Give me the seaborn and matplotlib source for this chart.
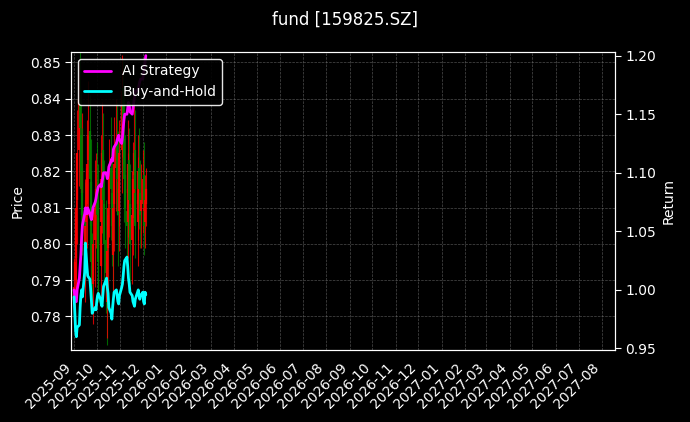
import numpy as np
import pandas as pd
import matplotlib
matplotlib.use("Agg")
import matplotlib.pyplot as plt
import seaborn as sns

close = [0.788,0.795,0.802,0.810,0.825,0.840,0.832,0.815,0.820,0.808,
         0.798,0.805,0.812,0.822,0.830,0.818,0.805,0.795,0.790,0.800,
         0.810,0.815,0.808,0.800,0.795,0.805,0.818,0.825,0.812,0.800,
         0.792,0.785,0.798,0.810,0.820,0.815,0.805,0.798,0.810,0.822,
         0.828,0.818,0.808,0.815,0.825,0.835,0.842,0.830,0.818,0.810,
         0.805,0.815,0.822,0.812,0.800,0.808,0.818,0.825,0.815,0.805,
         0.812,0.820,0.815,0.808,0.812,0.818,0.810,0.805,0.812,0.815]
open_ = [0.785,0.790,0.796,0.800,0.812,0.826,0.840,0.830,0.814,0.821,
         0.807,0.797,0.806,0.811,0.823,0.831,0.817,0.806,0.794,0.789,
         0.801,0.809,0.816,0.807,0.801,0.794,0.806,0.817,0.826,0.811,
         0.801,0.793,0.784,0.799,0.811,0.821,0.814,0.806,0.797,0.811,
         0.821,0.829,0.817,0.809,0.814,0.826,0.834,0.843,0.829,0.819,
         0.809,0.806,0.814,0.823,0.811,0.801,0.807,0.819,0.826,0.814,
         0.806,0.811,0.821,0.814,0.809,0.811,0.819,0.809,0.806,0.811]
wick = [0.008,0.012,0.010,0.015,0.012,0.010,0.014,0.012,0.016,0.011,
        0.010,0.013,0.009,0.012,0.015,0.010,0.012,0.014,0.009,0.011,
        0.013,0.010,0.012,0.015,0.011,0.009,0.012,0.014,0.010,0.012,
        0.011,0.013,0.010,0.012,0.009,0.014,0.011,0.012,0.010,0.013,
        0.012,0.010,0.014,0.011,0.009,0.012,0.010,0.008,0.012,0.011,
        0.013,0.010,0.012,0.009,0.011,0.012,0.010,0.013,0.011,0.009,
        0.012,0.010,0.011,0.009,0.010,0.008,0.009,0.008,0.007,0.006]
ai_ret = [1.000,0.995,0.990,0.990,1.000,1.010,1.020,1.030,1.045,1.055,
          1.065,1.070,1.068,1.065,1.070,1.065,1.062,1.060,1.065,1.070,
          1.075,1.078,1.082,1.085,1.088,1.090,1.088,1.092,1.096,1.100,
          1.100,1.098,1.095,1.098,1.105,1.110,1.112,1.110,1.120,1.122,
          1.125,1.128,1.130,1.132,1.128,1.125,1.130,1.138,1.145,1.150,
          1.150,1.155,1.160,1.158,1.152,1.150,1.155,1.160,1.165,1.170,
          1.170,1.172,1.175,1.178,1.180,1.180,1.185,1.190,1.195,1.200]
bh_ret = [0.994,0.980,0.965,0.960,0.968,0.970,0.985,0.995,1.000,0.994,
          1.015,1.040,1.030,1.020,1.012,1.009,1.000,0.990,0.980,0.982,
          0.985,0.983,0.990,0.995,0.997,0.992,0.988,0.986,0.995,1.003,
          1.008,1.010,1.002,0.997,0.985,0.980,0.975,0.985,0.992,0.998,
          1.000,0.995,0.990,0.988,0.995,1.002,1.005,1.012,1.020,1.025,
          1.028,1.020,1.010,1.005,0.998,0.995,0.990,0.988,0.986,0.992,
          0.998,1.000,0.995,0.992,0.995,0.998,0.990,0.988,0.998,0.996]

dates = pd.bdate_range("2025-09-01", periods=len(close))
df = pd.DataFrame({"date": dates, "open": open_, "close": close, "wick": wick,
                   "ai": ai_ret, "bh": bh_ret})

sns.set_style("dark")
plt.rcParams.update({"figure.facecolor": "black", "axes.facecolor": "black",
                     "text.color": "white", "axes.labelcolor": "white",
                     "xtick.color": "white", "ytick.color": "white",
                     "axes.edgecolor": "white"})
plt.rcParams['font.family'] = ['DejaVu Sans']

fig = plt.figure(figsize=(6.9, 4.22), dpi=100)
ax = fig.add_axes([0.103, 0.171, 0.788, 0.706])
ax.set_facecolor("black")

up = df["close"] >= df["open"]
cols = np.where(up, "red", "green")
hi = np.maximum(df["open"], df["close"]) + df["wick"]
lo = np.minimum(df["open"], df["close"]) - df["wick"]
ax.vlines(df["date"], lo, hi, colors=cols, linewidth=0.8, alpha=0.8)
ax.vlines(df["date"], df["open"], df["close"], colors=cols, linewidth=1.6, alpha=0.9)
ax.set_ylim(0.7708, 0.8529)
ax.set_ylabel("Price")
ax.grid(True, color="gray", linestyle="--", linewidth=0.5, alpha=0.6)

ax2 = ax.twinx()
sns.lineplot(data=df, x="date", y="ai", ax=ax2, color="magenta", linewidth=2, label="AI Strategy")
sns.lineplot(data=df, x="date", y="bh", ax=ax2, color="cyan", linewidth=2, label="Buy-and-Hold")
ax2.set_ylim(0.9488, 1.2032)
ax2.set_ylabel("Return")
ax2.set_xlabel("")
leg = ax2.legend(loc="upper left", facecolor="black", edgecolor="white", framealpha=0.9)
for t in leg.get_texts():
    t.set_color("white")

ax.set_xlim(pd.Timestamp("2025-08-28"), pd.Timestamp("2027-08-18"))
ax.xaxis.set_major_locator(matplotlib.dates.MonthLocator())
ax.xaxis.set_major_formatter(matplotlib.dates.DateFormatter("%Y-%m"))
for lab in ax.get_xticklabels():
    lab.set_rotation(45); lab.set_ha("right")
ax.set_xlabel("")
for a in (ax, ax2):
    for s in a.spines.values():
        s.set_color("white")
    a.tick_params(colors="white", length=4)
fig.suptitle("fund [159825.SZ]", color="white", fontsize=12, y=0.975)
fig.savefig("out.png", facecolor="black")
